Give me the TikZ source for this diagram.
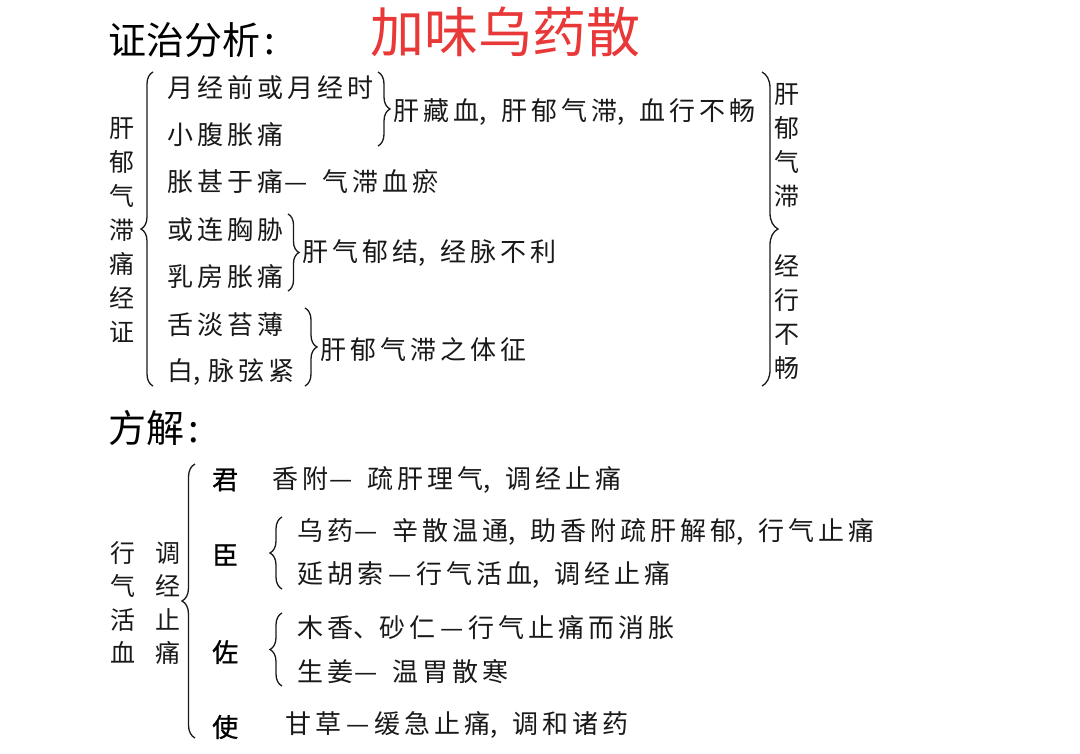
\documentclass[tikz,border=0pt]{standalone}
\usepackage{fontspec}
\setmainfont{Noto Sans CJK SC}
\newfontfamily\rankfont[FakeBold=0.9]{Noto Sans CJK SC}
\usetikzlibrary{decorations.pathreplacing}
\newdimen\cjkgap \cjkgap=4pt
\XeTeXinterchartokenstate=1
\makeatletter
\count@="4E00
\loop
  \XeTeXcharclass\count@=7
  \advance\count@ by 1
\ifnum\count@<"A000 \repeat
\makeatother
\XeTeXinterchartoks 7 7 = {\kern\cjkgap}
\newcommand\cm{,\kern15pt}
\newcommand\dsh{\kern1pt—\kern15pt}
\newcommand\dshb{\kern5pt—\kern5pt}
\definecolor{titlered}{RGB}{232,56,56}
\definecolor{ink}{RGB}{25,25,25}
\tikzset{
  body/.style={anchor=west, inner sep=0pt, text=ink, font=\fontsize{26}{26}\selectfont},
  vtxt/.style={inner sep=0pt, align=center, text=ink, font=\fontsize{25}{34}\selectfont},
  rank/.style={anchor=west, inner sep=0pt, text=black, font=\rankfont\fontsize{26}{26}\selectfont},
  head/.style={anchor=west, inner sep=0pt, text=black, font={\cjkgap=0pt\fontsize{38}{38}\selectfont}},
  brc/.style={decorate, decoration={brace, amplitude=#1}, line width=1.3pt, draw=ink},
}
\begin{document}
\begin{tikzpicture}[x=1pt, y=-1pt]
\useasboundingbox (0,0) rectangle (1080,754);
% titles
\node[head] (t1) at (108,40) {证治分析\kern4pt:};
\node[anchor=west, inner sep=0pt, text=titlered, font={\cjkgap=0pt\fontsize{54}{54}\selectfont}] (t2) at (370,32) {加味乌药散};
% left vertical label
\node[vtxt] (lv) at (122,230) {肝\\郁\\气\\滞\\痛\\经\\证};
% left column
\node[body] (a1) at (167,88) {月经前或月经时};
\node[body] (a2) at (167,135) {小腹胀痛};
\node[body] (a3) at (167,182) {胀甚于痛\dsh 气滞血瘀};
\node[body] (a4) at (167,230) {或连胸胁};
\node[body] (a5) at (167,277) {乳房胀痛};
\node[body] (a6) at (167,325) {舌淡苔薄};
\node[body] (a7) at (167,372) {白,\kern8pt 脉弦紧};
% explanations
\node[body] (b1) at (393,112) {肝藏血\cm 肝郁气滞\cm 血行不畅};
\node[body] (b2) at (302,253) {肝气郁结\cm 经脉不利};
\node[body] (b3) at (320,350) {肝郁气滞之体征};
% right vertical labels
\node[vtxt] (r1) at (787,145.5) {肝\\郁\\气\\滞};
\node[vtxt] (r2) at (787,316.5) {经\\行\\不\\畅};
% braces upper
\coordinate (L1s) at (153,386); \coordinate (L1e) at (153,72);
\draw[brc=12pt] (L1s) -- (L1e);
\coordinate (B1s) at (378,72); \coordinate (B1e) at (378,146);
\draw[brc=12pt] (B1s) -- (B1e);
\coordinate (B2s) at (288,214); \coordinate (B2e) at (288,291);
\draw[brc=11pt] (B2s) -- (B2e);
\coordinate (B3s) at (305,308); \coordinate (B3e) at (305,386);
\draw[brc=12pt] (B3s) -- (B3e);
\coordinate (R1s) at (762,72); \coordinate (R1e) at (762,386);
\draw[brc=16pt] (R1s) -- (R1e);
% lower section
\node[head] (t3) at (108,428) {方解\kern4pt:};
\node[vtxt, font=\fontsize{25}{33.5}\selectfont] (lv2) at (145,603) {行\hspace{20pt}调\\气\hspace{20pt}经\\活\hspace{20pt}止\\血\hspace{20pt}痛};
\coordinate (L2s) at (195,738); \coordinate (L2e) at (195,464);
\draw[brc=13pt] (L2s) -- (L2e);
\node[rank] (k1) at (212,480) {君};
\node[rank] (k2) at (212,555) {臣};
\node[rank] (k3) at (212,652) {佐};
\node[rank] (k4) at (212,727) {使};
\node[body] (c1) at (272,480) {香附\dsh 疏肝理气\cm 调经止痛};
\coordinate (C2s) at (282,589); \coordinate (C2e) at (282,517);
\draw[brc=12pt] (C2s) -- (C2e);
\node[body] (c2) at (297,532) {乌药\dsh 辛散温通\cm 助香附疏肝解郁\cm 行气止痛};
\node[body] (c3) at (297,575) {延胡索\dshb 行气活血\cm 调经止痛};
\coordinate (C3s) at (282,686); \coordinate (C3e) at (282,613);
\draw[brc=12pt] (C3s) -- (C3e);
\node[body] (c4) at (297,628) {木香、砂仁\dshb 行气止痛而消胀};
\node[body] (c5) at (297,672) {生姜\dsh 温胃散寒};
\node[body] (c6) at (285,725) {甘草\dshb 缓急止痛\cm 调和诸药};
\end{tikzpicture}
\end{document}
